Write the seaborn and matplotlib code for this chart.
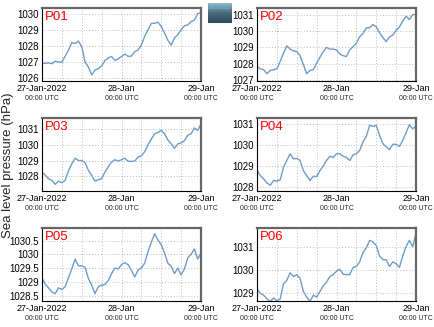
import numpy as np
import pandas as pd
import matplotlib
matplotlib.use("Agg")
import matplotlib.pyplot as plt
import matplotlib.dates as mdates
import matplotlib.transforms as mtrans
import seaborn as sns

sns.set_style("white")
plt.rcParams['font.family'] = ['Liberation Sans', 'DejaVu Sans']

stations = ["P01", "P02", "P03", "P04", "P05", "P06"]
times = pd.date_range("2022-01-27 00:00", "2022-01-29 00:00", freq="h")

p01 = [1026.92, 1026.93, 1026.95, 1026.9, 1027.05, 1027.0, 1027.0, 1027.37, 1027.75, 1028.2,
       1028.15, 1028.3, 1027.95, 1027.0, 1026.7, 1026.2, 1026.5, 1026.6, 1026.75, 1027.1,
       1027.25, 1027.35, 1027.1, 1027.2, 1027.35, 1027.5, 1027.35, 1027.38, 1027.65, 1027.75,
       1028.05, 1028.6, 1029.0, 1029.4, 1029.4, 1029.47, 1029.2, 1028.8, 1028.35, 1028.05,
       1028.5, 1028.7, 1029.0, 1029.25, 1029.3, 1029.5, 1029.6, 1030.0, 1030.05]
p02 = [1027.85, 1027.7, 1027.65, 1027.4, 1027.6, 1027.65, 1027.7, 1028.15, 1028.65, 1029.1,
       1028.9, 1028.8, 1028.75, 1028.5, 1027.95, 1027.4, 1027.6, 1027.65, 1028.05, 1028.4,
       1028.75, 1029.0, 1028.9, 1028.9, 1028.85, 1028.6, 1028.5, 1028.45, 1028.85, 1029.05,
       1029.25, 1029.65, 1029.85, 1030.2, 1030.2, 1030.4, 1030.25, 1029.9, 1029.6, 1029.35,
       1029.65, 1029.75, 1030.05, 1030.25, 1030.6, 1030.9, 1030.7, 1031.0, 1031.0]
p03 = [1028.27, 1028.07, 1027.85, 1027.75, 1027.5, 1027.7, 1027.6, 1027.75, 1028.35, 1028.8,
       1029.15, 1029.0, 1029.0, 1028.87, 1028.38, 1028.07, 1027.7, 1027.8, 1027.85, 1028.27,
       1028.6, 1028.9, 1029.05, 1028.97, 1029.05, 1029.15, 1028.95, 1028.95, 1028.97, 1029.22,
       1029.3, 1029.55, 1030.0, 1030.35, 1030.68, 1030.77, 1030.9, 1030.68, 1030.3, 1030.05,
       1029.77, 1030.05, 1030.12, 1030.25, 1030.6, 1030.68, 1031.05, 1030.9, 1031.3]
p04 = [1028.8, 1028.53, 1028.38, 1028.18, 1028.07, 1028.3, 1028.27, 1028.33, 1028.93, 1029.25,
       1029.57, 1029.33, 1029.35, 1029.25, 1028.77, 1028.53, 1028.3, 1028.5, 1028.48, 1028.77,
       1029.0, 1029.25, 1029.45, 1029.4, 1029.57, 1029.57, 1029.45, 1029.4, 1029.25, 1029.52,
       1029.57, 1029.73, 1030.13, 1030.4, 1030.92, 1030.87, 1030.92, 1030.45, 1030.05, 1029.9,
       1029.77, 1030.02, 1030.02, 1029.92, 1030.2, 1030.57, 1030.95, 1030.75, 1030.9]
p05 = [1029.15, 1028.9, 1028.78, 1028.62, 1028.57, 1028.78, 1028.72, 1028.82, 1029.15, 1029.47,
       1029.83, 1029.58, 1029.58, 1029.53, 1029.12, 1028.88, 1028.57, 1028.82, 1028.88, 1028.9,
       1029.05, 1029.3, 1029.5, 1029.47, 1029.62, 1029.7, 1029.62, 1029.41, 1029.18, 1029.43,
       1029.5, 1029.68, 1030.1, 1030.44, 1030.75, 1030.53, 1030.35, 1030.04, 1029.68, 1029.56,
       1029.3, 1029.5, 1029.25, 1029.47, 1029.87, 1030.0, 1030.2, 1029.83, 1030.05]
p06 = [1029.2, 1029.0, 1028.92, 1028.76, 1028.65, 1028.8, 1028.68, 1028.76, 1029.4, 1029.56,
       1029.88, 1029.72, 1029.8, 1029.64, 1029.08, 1028.84, 1028.65, 1028.92, 1028.84, 1029.08,
       1029.32, 1029.48, 1029.72, 1029.8, 1029.95, 1030.03, 1029.82, 1029.8, 1029.8, 1030.11,
       1030.15, 1030.35, 1030.75, 1030.95, 1031.27, 1031.2, 1031.05, 1030.6, 1030.44, 1030.44,
       1030.15, 1030.35, 1030.27, 1030.11, 1030.6, 1031.0, 1031.27, 1031.0, 1031.56]
series = [p01, p02, p03, p04, p05, p06]

ylims = [(1025.83, 1030.35), (1026.96, 1031.4), (1027.08, 1031.68),
         (1027.8, 1031.27), (1028.3, 1030.96), (1028.67, 1031.8)]
yticks = [[1026, 1027, 1028, 1029, 1030], [1027, 1028, 1029, 1030, 1031],
          [1028, 1029, 1030, 1031], [1028, 1029, 1030, 1031],
          [1028.5, 1029, 1029.5, 1030, 1030.5], [1029, 1030, 1031]]
major_dates = ["2022-01-27", "2022-01-28", "2022-01-29"]
date_labels = ["27-Jan-2022", "28-Jan", "29-Jan"]
time_label = "00:00 UTC"
ylabel = "Sea level pressure (hPa)"

W, H = 435, 327
fig = plt.figure(figsize=(W / 100, H / 100), dpi=100)

lefts = [42, 257]
tops = [8, 118, 228]
aw, ah = 159, 73
line_color = "#6f9cc8"

for i, (name, vals) in enumerate(zip(stations, series)):
    r, c = divmod(i, 2)
    ax = fig.add_axes([lefts[c] / W, 1 - (tops[r] + ah) / H, aw / W, ah / H])
    df = pd.DataFrame({"time": times, "slp": vals})
    sns.lineplot(data=df, x="time", y="slp", ax=ax, color=line_color, lw=1.0)
    ax.set_xlim(pd.Timestamp(major_dates[0]), pd.Timestamp(major_dates[-1]))
    ax.set_ylim(*ylims[i])
    ax.set_yticks(yticks[i])
    ax.set_yticklabels([f"{v:g}" for v in yticks[i]], fontsize=7)
    ax.xaxis.set_minor_locator(mdates.HourLocator(byhour=[6, 12, 18]))
    ax.set_xticks([pd.Timestamp(d) for d in major_dates])
    ax.set_xticklabels(date_labels, fontsize=6.5)
    ax.set_xlabel("")
    ax.set_ylabel("")
    ax.grid(True, which="both", axis="x", ls=(0, (1, 2)), color="#bbbbbb", lw=0.7)
    ax.grid(True, which="major", axis="y", ls=(0, (1, 2)), color="#bbbbbb", lw=0.7)
    ax.tick_params(axis="both", which="both", direction="in", length=2.5, width=0.6,
                   pad=2, colors="black")
    ax.tick_params(axis="x", which="major", pad=2.5)
    for s in ["left", "bottom"]:
        ax.spines[s].set_color("black")
        ax.spines[s].set_linewidth(0.8)
    for s in ["top", "right"]:
        ax.spines[s].set_color("#666666")
        ax.spines[s].set_linewidth(1.6)
    ax.text(0.02, 0.96, name, transform=ax.transAxes, color="red", fontsize=9.5,
            va="top", ha="left")
    trans = mtrans.blended_transform_factory(ax.transData, ax.transAxes)
    for d in major_dates:
        ax.text(mdates.date2num(pd.Timestamp(d)), -0.235, time_label, transform=trans,
                fontsize=5, ha="center", va="center")

fig.text(8 / W, 1 - 165 / H, ylabel, rotation=90, ha="center", va="center", fontsize=9.5)

# logo
lax = fig.add_axes([208 / W, 1 - 23 / H, 24 / W, 20 / H])
grad = np.linspace(0, 1, 50).reshape(-1, 1)
lax.imshow(grad, cmap=matplotlib.colors.LinearSegmentedColormap.from_list(
    "logo", ["#9fb3bf", "#4a6a7c", "#2e4a5c"]), aspect="auto", extent=[0, 1, 0, 1])
lax.text(0.5, 0.97, "SOCIB", color="#40c8e0", fontsize=5, ha="center", va="top",
         transform=lax.transAxes)
lax.set_axis_off()

fig.savefig("out.png", dpi=100)
